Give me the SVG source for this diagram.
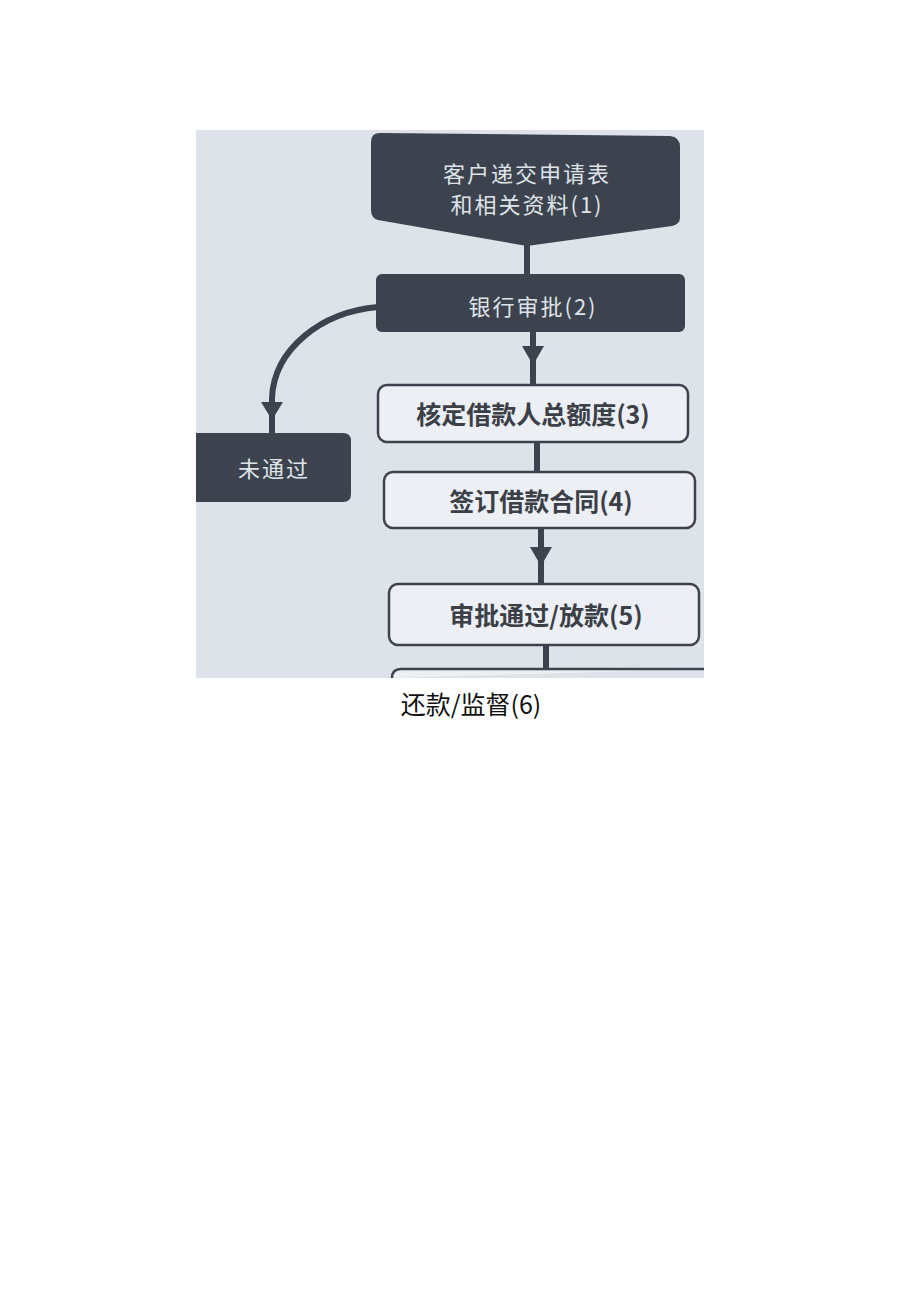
<svg xmlns="http://www.w3.org/2000/svg" width="920" height="1301" viewBox="0 0 920 1301">
<defs>
<style>
.dark{fill:#3d434e;}
.box{fill:#eceff3;stroke:#3d434e;stroke-width:2.5;}
.wt{font-family:"Noto Sans CJK SC","Noto Sans",sans-serif;fill:#dfe3e8;font-size:22px;text-anchor:middle;dominant-baseline:central;letter-spacing:2px;}
.bt{font-family:"Noto Sans CJK SC","Noto Sans",sans-serif;fill:#3a3f48;font-size:25px;font-weight:bold;text-anchor:middle;dominant-baseline:central;}
.line{stroke:#3d434e;stroke-width:6;fill:none;}
.head{fill:#3d434e;}
</style>
</defs>
<rect x="0" y="0" width="920" height="1301" fill="#ffffff"/>
<rect x="196" y="130" width="508" height="548" fill="#dee3ea"/>
<g id="connectors">
<line class="line" x1="527" y1="240" x2="527" y2="278"/>
<line class="line" x1="533" y1="332" x2="533" y2="386"/>
<polygon class="head" points="522,346 544,346 533,365"/>
<line class="line" x1="537" y1="442" x2="537" y2="473"/>
<line class="line" x1="541" y1="528" x2="541" y2="585"/>
<polygon class="head" points="530,547 552,547 541,566"/>
<line class="line" x1="546" y1="645" x2="546" y2="670"/>
<path class="line" d="M378 307 C320 312 274 350 272 398 L272 434"/>
<polygon class="head" points="261,402 283,402 272,420"/>
</g>
<g id="n1">
<path class="dark" d="M380 133 L670 136 Q680 137 680 147 L680 218 Q680 224 672 226 L527 246 L378 220 Q371 218 371 210 L371 142 Q371 133 380 133 Z"/>
<text class="wt" x="527" y="172">客户递交申请表</text>
<text class="wt" x="527" y="203">和相关资料(1)</text>
</g>
<g id="n2">
<rect class="dark" x="376" y="274" width="309" height="58" rx="6"/>
<text class="wt" x="533" y="305">银行审批(2)</text>
</g>
<g id="n3">
<rect class="box" x="378" y="385" width="310" height="57" rx="9"/>
<text class="bt" x="533" y="413">核定借款人总额度(3)</text>
</g>
<g id="n4">
<rect class="box" x="384" y="472" width="311" height="56" rx="9"/>
<text class="bt" x="541" y="500">签订借款合同(4)</text>
</g>
<g id="n5">
<rect class="box" x="389" y="584" width="310" height="61" rx="9"/>
<text class="bt" x="546" y="614">审批通过/放款(5)</text>
</g>
<g id="n6">
<path class="box" d="M392 678 Q392 669 401 669 L704 669"/>
</g>
<g id="nfail">
<path class="dark" d="M196 433 L343 433 Q351 433 351 441 L351 494 Q351 502 343 502 L196 502 Z"/>
<text class="wt" x="274" y="467">未通过</text>
</g>
<g id="caption">
<text x="471" y="703" font-family="Noto Sans CJK SC,Noto Sans,sans-serif" font-size="25" fill="#111" text-anchor="middle" dominant-baseline="central">还款/监督(6)</text>
</g>
</svg>
